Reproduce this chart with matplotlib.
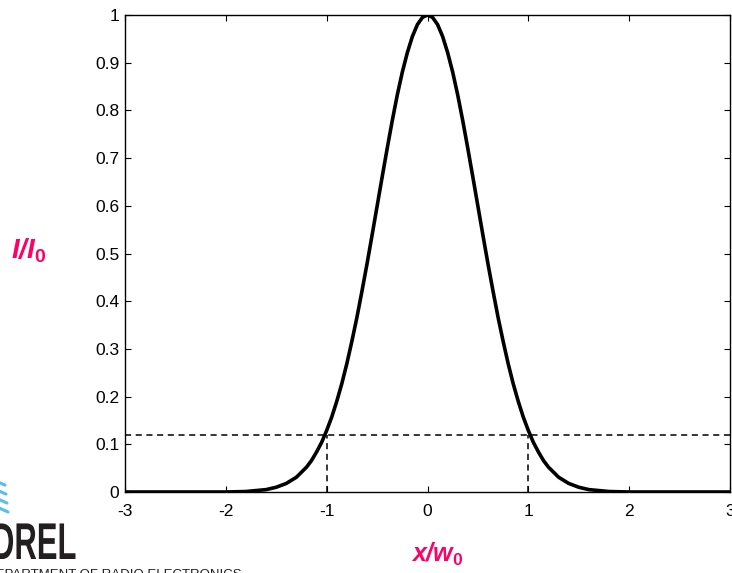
# -*- coding: utf-8 -*-
import matplotlib
matplotlib.use('Agg')
import matplotlib.pyplot as plt
from matplotlib.textpath import TextPath
from matplotlib.patches import PathPatch
from matplotlib.font_manager import FontProperties
from matplotlib.transforms import Affine2D

plt.rcParams['font.family'] = ['Liberation Sans', 'DejaVu Sans']
plt.rcParams['mathtext.fontset'] = 'custom'
plt.rcParams['mathtext.rm'] = 'Liberation Sans'
plt.rcParams['mathtext.bf'] = 'Liberation Sans:bold'
plt.rcParams['mathtext.bfit'] = 'Liberation Sans:italic:bold'
plt.rcParams['mathtext.it'] = 'Liberation Sans:italic'

# Профиль интенсивности (правая половина, кривая симметрична)
x_half = [0.0, 0.05, 0.1, 0.15, 0.2, 0.25, 0.3, 0.35, 0.4, 0.45, 0.5, 0.55,
          0.6, 0.65, 0.7, 0.75, 0.8, 0.85, 0.9, 0.95, 1.0, 1.05, 1.1, 1.15,
          1.2, 1.3, 1.4, 1.5, 1.6, 1.7, 1.8, 2.0, 3.0]
i_half = [1.0, 0.995, 0.98, 0.955, 0.921, 0.88, 0.832, 0.778, 0.72, 0.66, 0.599, 0.538,
          0.478, 0.421, 0.366, 0.316, 0.269, 0.227, 0.19, 0.157, 0.129, 0.104, 0.084, 0.066,
          0.052, 0.031, 0.018, 0.01, 0.005, 0.003, 0.001, 0.0, 0.0]

level = 0.12          # уровень пунктирной линии
marks = [-1, 1]       # вертикальные пунктиры
x_ticks = [-3, -2, -1, 0, 1, 2, 3]
y_ticks = [0, 0.1, 0.2, 0.3, 0.4, 0.5, 0.6, 0.7, 0.8, 0.9, 1]
y_labels = ['0', '0.1', '0.2', '0.3', '0.4', '0.5', '0.6', '0.7', '0.8', '0.9', '1']

x_vals = [-v for v in x_half[:0:-1]] + x_half
i_vals = i_half[:0:-1] + i_half

W, H = 732, 573
fig = plt.figure(figsize=(W / 100, H / 100), dpi=100)
ax = fig.add_axes([125 / W, 1 - 492 / H, 605 / W, 477 / H])

ax.plot(x_vals, i_vals, color='black', linewidth=2.6, solid_joinstyle='round', zorder=3)
ax.plot([-3, 3], [level, level], color='black', linestyle=(0, (4, 3)), linewidth=1.1)
for m in marks:
    ax.plot([m, m], [0, level], color='black', linestyle=(0, (4, 3)), linewidth=1.1)

ax.set_xlim(-3, 3)
ax.set_ylim(0, 1)
ax.set_xticks(x_ticks)
ax.set_xticklabels([str(t) for t in x_ticks])
ax.set_yticks(y_ticks)
ax.set_yticklabels(y_labels)
ax.tick_params(direction='in', length=4, width=0.8, top=True, right=True,
               labelsize=12.5)
ax.tick_params(axis='x', pad=8.5)
ax.tick_params(axis='y', pad=4)
for s in ax.spines.values():
    s.set_linewidth(1.0)

pink = '#ff0066'
fig.text(29 / W, 1 - 251 / H, r'$\mathbfit{I/I}_{\mathbf{0}}$', color=pink,
         fontsize=20, ha='center', va='center')
fig.text(437 / W, 1 - 554 / H, r'$\mathbfit{x/w}_{\mathbf{0}}$', color=pink,
         fontsize=18, ha='center', va='center')

# логотип в левом нижнем углу (обрезан краем)
ov = fig.add_axes([0, 0, 1, 1], zorder=-1)
ov.set_xlim(0, W)
ov.set_ylim(H, 0)
ov.axis('off')
for k, ln in enumerate([5, 6, 7, 8]):
    y0 = 482 + 8.5 * k
    ov.plot([-2, ln], [y0, y0 + 0.45 * (ln + 2)], color='#5bbde6',
            linewidth=2.2, solid_capstyle='round')

logo = TextPath((0, 0), 'DREL', size=51.7,
                prop=FontProperties(family='Liberation Sans', weight='bold'))
logo = Affine2D().scale(0.6, -1).translate(-8, 559).transform_path(logo)
ov.add_patch(PathPatch(logo, facecolor='#231f20', edgecolor='none'))
ov.text(-14, 578, 'DEPARTMENT OF RADIO ELECTRONICS', fontsize=9.5, color='#231f20',
        ha='left', va='baseline')

fig.savefig('out.png', dpi=100)
plt.close(fig)
